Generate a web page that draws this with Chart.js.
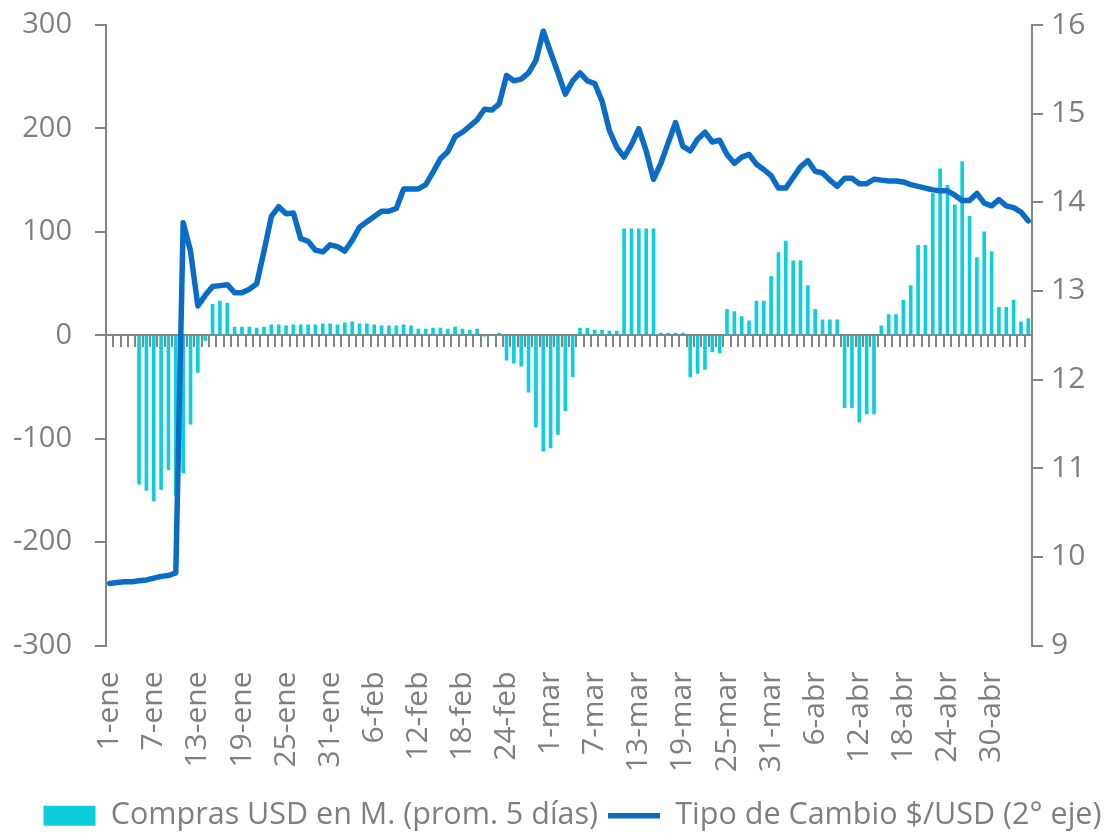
<!DOCTYPE html>
<html>
<head>
<meta charset="utf-8">
<script src="https://cdn.jsdelivr.net/npm/chart.js@4.4.1/dist/chart.umd.min.js"></script>
<style>
  html, body { margin: 0; padding: 0; background: #fff; }
</style>
</head>
<body>
<canvas id="grafico" width="1111" height="833"></canvas>
<script>
// Meses y cantidad de días (2016, bisiesto) hasta el 5-may
var meses = ['ene', 'feb', 'mar', 'abr', 'may'];
var diasPorMes = [31, 29, 31, 30, 5];

// Etiquetas que se muestran en el eje x (cada 6 días)
var etiquetasEje = ['1-ene', '7-ene', '13-ene', '19-ene', '25-ene', '31-ene', '6-feb', '12-feb',
  '18-feb', '24-feb', '1-mar', '7-mar', '13-mar', '19-mar', '25-mar', '31-mar', '6-abr',
  '12-abr', '18-abr', '24-abr', '30-abr'];

// Compras USD en M. (prom. 5 días)
var compras = [
  null, null, null, null,
  -144, -150, -160, -149, -130, -155, -133, -86, -36, -5,
  30, 33, 31, 8, 8, 8, 7, 8, 10, 10,
  9, 10, 10, 10, 10, 11, 11, 10, 12, 13,
  11, 11, 10, 9, 9, 9, 10, 9, 6, 6,
  7, 7, 6, 8, 6, 5, 6, -1, null, 2,
  -24, -27, -30, -55, -89, -112, -109, -96, -73, -40,
  7, 7, 5, 5, 4, 4, 103, 103, 103, 103,
  103, 2, 2, 2, 2, -40, -37, -33, -16, -17,
  25, 23, 18, 14, 33, 33, 57, 80, 91, 72,
  72, 48, 25, 15, 15, 15, -70, -70, -84, -76,
  -76, 9, 20, 20, 34, 48, 87, 87, 137, 161,
  145, 126, 168, 115, 75, 100, 81, 27, 27, 34,
  13, 16
];

// Tipo de Cambio $/USD (2° eje)
var tipoCambio = [
  9.70, 9.71, 9.72, 9.72, 9.73, 9.74, 9.76, 9.78, 9.79, 9.82,
  13.77, 13.45, 12.83, 12.95, 13.05, 13.06, 13.07, 12.98, 12.98, 13.02,
  13.08, 13.45, 13.84, 13.95, 13.87, 13.88, 13.59, 13.56, 13.46, 13.44,
  13.52, 13.50, 13.45, 13.57, 13.72, 13.78, 13.84, 13.90, 13.90, 13.93,
  14.15, 14.15, 14.15, 14.20, 14.34, 14.49, 14.57, 14.74, 14.79, 14.86,
  14.93, 15.05, 15.04, 15.11, 15.43, 15.37, 15.39, 15.46, 15.60, 15.93,
  15.69, 15.46, 15.22, 15.37, 15.46, 15.37, 15.34, 15.14, 14.81, 14.62,
  14.51, 14.65, 14.83, 14.58, 14.26, 14.44, 14.67, 14.90, 14.63, 14.58,
  14.71, 14.79, 14.68, 14.70, 14.54, 14.44, 14.51, 14.54, 14.43, 14.37,
  14.30, 14.16, 14.16, 14.28, 14.40, 14.47, 14.35, 14.33, 14.25, 14.18,
  14.27, 14.27, 14.21, 14.21, 14.26, 14.25, 14.24, 14.24, 14.23, 14.20,
  14.18, 14.16, 14.14, 14.13, 14.13, 14.08, 14.02, 14.02, 14.10, 13.99,
  13.96, 14.03, 13.96, 13.94, 13.89, 13.79
];

// Armar las fechas diarias (1-ene ... 5-may)
var fechas = [];
meses.forEach(function(mes, m) {
  for (var d = 1; d <= diasPorMes[m]; d++) {
    fechas.push(d + '-' + mes);
  }
});

var gris = '#858585';
var grisTexto = '#7f7f7f';
var fuente = "'Open Sans', 'Noto Sans', sans-serif";

// Quitar el relleno automático que agregan las etiquetas de los ejes
function sinRelleno(escala) {
  escala.paddingTop = 0;
  escala.paddingBottom = 0;
}

// Correr la leyenda un poco a la derecha, como en el original
var moverLeyenda = {
  id: 'moverLeyenda',
  afterLayout: function(chart) {
    chart.legend.left += 17;
    chart.legend.right += 17;
  }
};

var ctx = document.getElementById('grafico').getContext('2d');
var grafico = new Chart(ctx, {
  data: {
    labels: fechas,
    datasets: [{
      type: 'bar',
      label: 'Compras USD en M. (prom. 5 días)',
      data: compras,
      backgroundColor: '#0bcfdb',
      borderWidth: 0,
      barThickness: 3,
      pointStyle: 'rect',
      xAxisID: 'x',
      yAxisID: 'y',
      order: 1
    }, {
      type: 'line',
      label: 'Tipo de Cambio $/USD (2° eje)',
      data: tipoCambio,
      borderColor: '#0a6cc6',
      backgroundColor: '#0a6cc6',
      borderWidth: 5.5,
      pointRadius: 0,
      pointStyle: 'line',
      tension: 0,
      borderJoinStyle: 'round',
      borderCapStyle: 'round',
      xAxisID: 'x',
      yAxisID: 'y2',
      order: 0
    }]
  },
  plugins: [moverLeyenda],
  options: {
    responsive: false,
    animation: false,
    layout: { padding: { top: 25, left: 0, right: 0, bottom: -8 } },
    plugins: {
      tooltip: { enabled: false },
      legend: {
        position: 'bottom',
        labels: {
          usePointStyle: true,
          pointStyleWidth: 52,
          boxHeight: 20,
          padding: 10,
          color: grisTexto,
          font: { family: fuente, size: 30.5 },
          sort: function(a, b) { return a.datasetIndex - b.datasetIndex; }
        }
      }
    },
    scales: {
      x: {
        type: 'category',
        position: 'bottom',
        offset: true,
        grid: { display: false, drawTicks: false },
        border: { display: false },
        ticks: {
          autoSkip: false,
          minRotation: 90,
          maxRotation: 90,
          padding: 26,
          color: grisTexto,
          font: { family: fuente, size: 30 },
          callback: function(valor) {
            var etiqueta = this.getLabelForValue(valor);
            return etiquetasEje.indexOf(etiqueta) >= 0 ? etiqueta : '';
          }
        },
        afterFit: function(escala) { escala.height = 145; sinRelleno(escala); }
      },
      // eje en el cero, solo con las marcas entre categorías
      xCero: {
        type: 'category',
        position: { y: 0 },
        offset: true,
        grid: {
          offset: true,
          drawOnChartArea: false,
          drawTicks: true,
          tickLength: 11,
          color: gris,
          lineWidth: 2
        },
        border: { display: true, color: gris, width: 2 },
        ticks: { display: false },
        afterFit: sinRelleno
      },
      y: {
        position: 'left',
        min: -300,
        max: 300,
        grid: { drawOnChartArea: false, tickLength: 11, color: gris, lineWidth: 2 },
        border: { display: true, color: gris, width: 2 },
        ticks: {
          stepSize: 100,
          padding: 23,
          color: grisTexto,
          font: { family: fuente, size: 29 }
        },
        afterFit: function(escala) { escala.width = 106; sinRelleno(escala); }
      },
      y2: {
        position: 'right',
        min: 9,
        max: 16,
        grid: { drawOnChartArea: false, tickLength: 11, color: gris, lineWidth: 2 },
        border: { display: true, color: gris, width: 2 },
        ticks: {
          stepSize: 1,
          padding: 8,
          color: grisTexto,
          font: { family: fuente, size: 30 }
        },
        afterFit: function(escala) { escala.width = 79; sinRelleno(escala); }
      }
    }
  }
});
</script>
</body>
</html>
